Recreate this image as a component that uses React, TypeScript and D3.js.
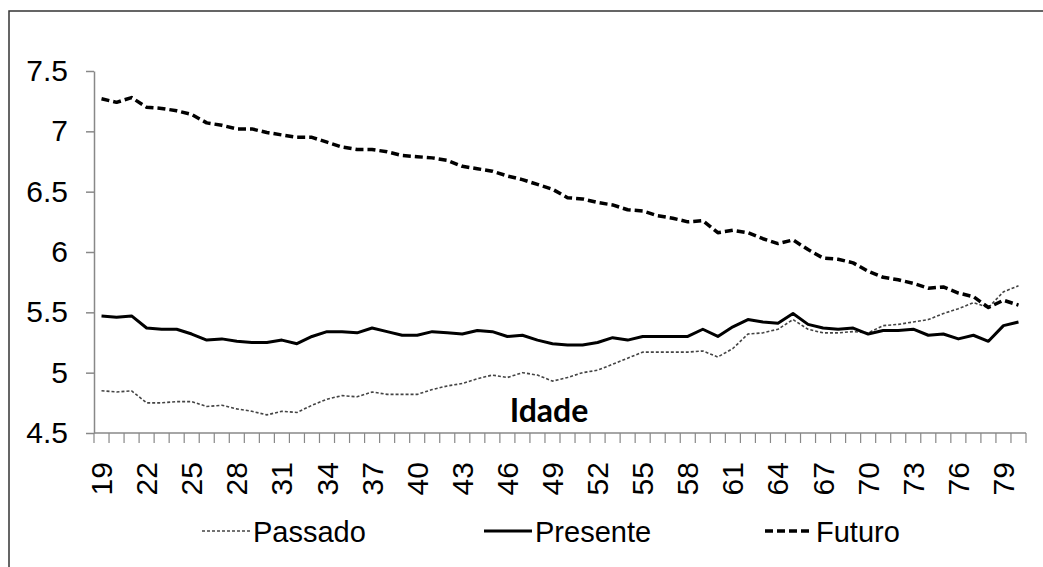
import React, { useEffect, useRef } from "react";
import * as d3 from "d3";

const ages = d3.range(19, 81);

const passado = [
  4.85, 4.84, 4.85, 4.75, 4.75, 4.76, 4.76, 4.72, 4.73, 4.7, 4.68, 4.65, 4.68, 4.67, 4.73, 4.78,
  4.81, 4.8, 4.84, 4.82, 4.82, 4.82, 4.86, 4.89, 4.91, 4.95, 4.98, 4.96, 5.0, 4.98, 4.93, 4.96,
  5.0, 5.02, 5.07, 5.12, 5.17, 5.17, 5.17, 5.17, 5.18, 5.13, 5.2, 5.32, 5.33, 5.36, 5.44, 5.36,
  5.33, 5.33, 5.34, 5.33, 5.39, 5.4, 5.42, 5.44, 5.49, 5.53, 5.58, 5.54, 5.67, 5.72,
];

const presente = [
  5.47, 5.46, 5.47, 5.37, 5.36, 5.36, 5.32, 5.27, 5.28, 5.26, 5.25, 5.25, 5.27, 5.24, 5.3, 5.34,
  5.34, 5.33, 5.37, 5.34, 5.31, 5.31, 5.34, 5.33, 5.32, 5.35, 5.34, 5.3, 5.31, 5.27, 5.24, 5.23,
  5.23, 5.25, 5.29, 5.27, 5.3, 5.3, 5.3, 5.3, 5.36, 5.3, 5.38, 5.44, 5.42, 5.41, 5.49, 5.4,
  5.37, 5.36, 5.37, 5.32, 5.35, 5.35, 5.36, 5.31, 5.32, 5.28, 5.31, 5.26, 5.39, 5.42,
];

const futuro = [
  7.27, 7.24, 7.28, 7.2, 7.19, 7.17, 7.14, 7.07, 7.05, 7.02, 7.02, 6.99, 6.97, 6.95, 6.95, 6.91,
  6.87, 6.85, 6.85, 6.83, 6.8, 6.79, 6.78, 6.76, 6.71, 6.69, 6.67, 6.63, 6.6, 6.56, 6.52, 6.45,
  6.44, 6.41, 6.39, 6.35, 6.34, 6.3, 6.28, 6.25, 6.26, 6.16, 6.18, 6.16, 6.11, 6.07, 6.1, 6.02,
  5.95, 5.94, 5.91, 5.84, 5.79, 5.77, 5.74, 5.7, 5.71, 5.66, 5.63, 5.54, 5.6, 5.56,
];

const yTicks = [4.5, 5, 5.5, 6, 6.5, 7, 7.5];
const xLabels = d3.range(19, 80, 3);

const series = [
  { name: "Passado", values: passado, width: 1.6, dash: "3,2", color: "#444", legendX: 202 },
  { name: "Presente", values: presente, width: 3, dash: null, color: "#000", legendX: 484 },
  { name: "Futuro", values: futuro, width: 3.5, dash: "8,4", color: "#000", legendX: 765 },
];

const App = () => {
  const svgRef = useRef(null);
  const width = 1043;
  const height = 567;
  const margin = { top: 71, left: 94, right: 1026, bottom: 433 };

  useEffect(() => {
    const svgEl = d3.select(svgRef.current);
    svgEl.selectAll("*").remove();
    const font = "'Liberation Sans', Arial, sans-serif";

    // frame
    svgEl
      .append("rect")
      .attr("x", 9)
      .attr("y", 11)
      .attr("width", 1050)
      .attr("height", 600)
      .attr("fill", "none")
      .attr("stroke", "#333")
      .attr("stroke-width", 1.5);

    const x = d3.scaleBand().domain(ages).range([margin.left, margin.right]).padding(0);
    const y = d3.scaleLinear().domain([4.5, 7.5]).range([margin.bottom, margin.top]);
    const cx = (a) => x(a) + x.bandwidth() / 2;

    // y axis
    const yAxis = svgEl
      .append("g")
      .attr("transform", `translate(${margin.left},0)`)
      .call(d3.axisLeft(y).tickValues(yTicks).tickSize(8).tickSizeOuter(0).tickPadding(18).tickFormat(d3.format("")));
    yAxis.select(".domain").attr("stroke", "#888").attr("stroke-width", 1.5);
    yAxis.selectAll(".tick line").attr("stroke", "#888").attr("stroke-width", 1.5);
    yAxis.selectAll("text").attr("font-family", font).attr("font-size", 30).attr("fill", "#000");

    // x axis, ticks sit between categories
    const xAxis = svgEl.append("g");
    xAxis
      .append("line")
      .attr("x1", margin.left)
      .attr("x2", margin.right)
      .attr("y1", margin.bottom)
      .attr("y2", margin.bottom)
      .attr("stroke", "#888")
      .attr("stroke-width", 1.5);
    xAxis
      .selectAll("line.tk")
      .data(ages.concat([81]))
      .join("line")
      .attr("class", "tk")
      .attr("x1", (d) => (d === 81 ? margin.right : x(d)))
      .attr("x2", (d) => (d === 81 ? margin.right : x(d)))
      .attr("y1", margin.bottom)
      .attr("y2", margin.bottom + 10)
      .attr("stroke", "#888")
      .attr("stroke-width", 1.2);
    xAxis
      .selectAll("text")
      .data(xLabels)
      .join("text")
      .attr("transform", (d) => `translate(${cx(d)},${margin.bottom + 29}) rotate(-90)`)
      .attr("text-anchor", "end")
      .attr("dy", "0.35em")
      .attr("font-family", font)
      .attr("font-size", 30)
      .text((d) => d);

    // lines
    const line = d3
      .line()
      .x((d, i) => cx(ages[i]))
      .y((d) => y(d));

    series.forEach((s) => {
      svgEl
        .append("path")
        .datum(s.values)
        .attr("d", line)
        .attr("fill", "none")
        .attr("stroke", s.color)
        .attr("stroke-width", s.width)
        .attr("stroke-dasharray", s.dash)
        .attr("stroke-linejoin", "round");
    });

    // axis title
    svgEl
      .append("text")
      .attr("x", 549)
      .attr("y", 422)
      .attr("text-anchor", "middle")
      .attr("font-family", "Lato, 'Open Sans', sans-serif")
      .attr("font-weight", "bold")
      .attr("font-size", 32)
      .text("Idade");

    // legend
    const legend = svgEl.append("g");
    series.forEach((s) => {
      legend
        .append("line")
        .attr("x1", s.legendX)
        .attr("x2", s.legendX + 48)
        .attr("y1", 531)
        .attr("y2", 531)
        .attr("stroke", s.color)
        .attr("stroke-width", s.width)
        .attr("stroke-dasharray", s.dash);
      legend
        .append("text")
        .attr("x", s.legendX + 51)
        .attr("y", 542)
        .attr("font-family", font)
        .attr("font-size", 29)
        .text(s.name);
    });
  }, []);

  return (
    <svg
      ref={svgRef}
      width={width}
      height={height}
      style={{ position: "absolute", left: 0, top: 0, background: "#fff" }}
    />
  );
};

export default App;
